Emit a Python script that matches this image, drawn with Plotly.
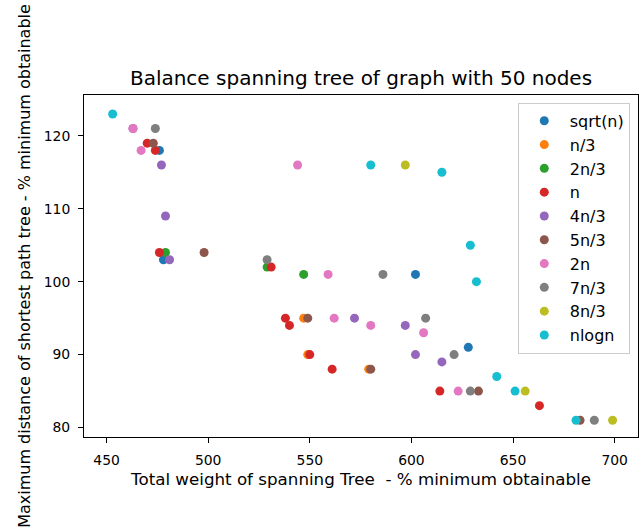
import plotly.graph_objects as go

# ---- data ----
series_names = ["sqrt(n)", "n/3", "2n/3", "n", "4n/3", "5n/3", "2n", "7n/3", "8n/3", "nlogn"]
colors = ["#1f77b4", "#ff7f0e", "#2ca02c", "#d62728", "#9467bd",
          "#8c564b", "#e377c2", "#7f7f7f", "#bcbd22", "#17becf"]

sqrt_n_x = [476, 478, 602, 628]
sqrt_n_y = [118, 103, 101, 91]

n3_x = [547, 549, 579]
n3_y = [95, 90, 88]

n23_x = [479, 529, 547]
n23_y = [104, 102, 101]

n_x = [470, 474, 476, 531, 538, 540, 550, 561, 614, 663]
n_y = [119, 118, 104, 102, 95, 94, 90, 88, 85, 83]

n43_x = [463, 477, 479, 481, 572, 597, 602, 615]
n43_y = [121, 116, 109, 103, 95, 94, 90, 89]

n53_x = [473, 498, 549, 580, 633, 683]
n53_y = [119, 104, 95, 88, 85, 81]

n2_x = [463, 467, 544, 559, 562, 580, 606, 623]
n2_y = [121, 118, 116, 101, 95, 94, 93, 85]

n73_x = [474, 529, 586, 607, 621, 629, 690]
n73_y = [121, 103, 101, 95, 90, 85, 81]

n83_x = [597, 656, 699]
n83_y = [116, 85, 81]

nlogn_x = [453, 580, 615, 629, 632, 642, 651, 681]
nlogn_y = [123, 116, 115, 105, 100, 87, 85, 81]

xs = [sqrt_n_x, n3_x, n23_x, n_x, n43_x, n53_x, n2_x, n73_x, n83_x, nlogn_x]
ys = [sqrt_n_y, n3_y, n23_y, n_y, n43_y, n53_y, n2_y, n73_y, n83_y, nlogn_y]

x_ticks = [450, 500, 550, 600, 650, 700]
y_ticks = [80, 90, 100, 110, 120]

FONT = "DejaVu Sans"

fig = go.Figure()
for name, c, x, y in zip(series_names, colors, xs, ys):
    fig.add_trace(go.Scatter(
        x=x, y=y, mode="markers", name=name, legendgroup=name,
        marker=dict(color=c, size=9, line=dict(width=0)),
    ))

axis_common = dict(
    showgrid=False, zeroline=False, showline=True, mirror=True,
    linecolor="black", linewidth=1, ticks="outside", ticklen=5,
    tickcolor="black", tickwidth=1, ticklabelstandoff=5, automargin=True,
    tickfont=dict(family=FONT, size=13.9, color="black"),
)

fig.update_layout(
    width=643, height=528,
    margin=dict(l=84, r=5, t=95, b=91),
    paper_bgcolor="white", plot_bgcolor="white",
    font=dict(family=FONT, size=13.9, color="black"),
    title=dict(text="Balance spanning tree of graph with 50 nodes",
               x=0.5, xref="paper", xanchor="center",
               y=(528 - 78) / 528, yref="container", yanchor="middle",
               font=dict(family=FONT, size=20, color="black")),
    xaxis=dict(axis_common, range=[438.9, 711.5], tickvals=x_ticks,
               title=dict(text="Total weight of spanning Tree  - % minimum obtainable",
                          font=dict(family=FONT, size=16.7, color="black"),
                          standoff=6)),
    yaxis=dict(axis_common, range=[78.7, 125.6], tickvals=y_ticks,
               title=dict(text="Maximum distance of shortest path tree - % minimum obtainable",
                          font=dict(family=FONT, size=16, color="black"),
                          standoff=9)),
    legend=dict(x=0.783, y=0.977, xanchor="left", yanchor="top",
                bgcolor="rgba(255,255,255,0.8)", bordercolor="#cccccc",
                borderwidth=1, font=dict(family=FONT, size=16, color="black"),
                traceorder="grouped", tracegroupgap=0, itemwidth=41),
    showlegend=True,
)

fig.write_html(
    "out.html",
    config={"displayModeBar": False},
    post_script="document.body.style.margin='0px';document.body.style.overflow='hidden';",
)
